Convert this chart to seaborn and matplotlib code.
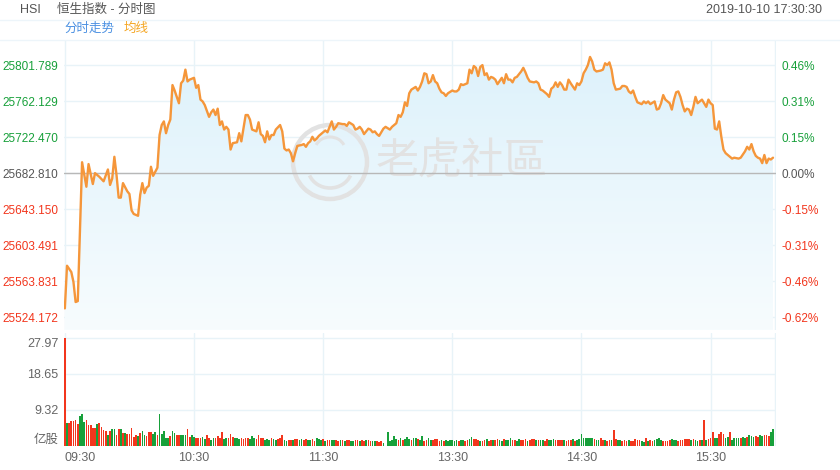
import numpy as np
import pandas as pd
import matplotlib
matplotlib.use("Agg")
import matplotlib.pyplot as plt
import seaborn as sns
from matplotlib.colors import LinearSegmentedColormap
from matplotlib.lines import Line2D
from matplotlib.patches import Circle, Arc
from matplotlib.transforms import IdentityTransform

# previous close and the axis step used by the quote panel
pre_close = 25682.810
step = 39.65955

# intraday price (minutes after 09:30, lunch removed)
price_min = [0, 1, 3, 4, 5, 6, 7, 8, 10, 11, 13, 14, 16, 18, 20, 21, 22, 23, 24, 25,
             26, 27, 29, 30, 31, 32, 34, 35, 36, 37, 38, 39, 40, 41, 43, 44, 45, 46, 47, 48,
             49, 50, 51, 53, 54, 55, 56, 57, 58, 60, 61, 62, 63, 64, 65, 67, 68, 69, 70, 71,
             72, 73, 74, 75, 76, 77, 78, 80, 81, 82, 84, 85, 86, 87, 89, 90, 91, 92, 93, 94,
             95, 96, 97, 98, 100, 101, 102, 103, 104, 105, 106, 107, 108, 110, 111, 112, 113, 114, 115, 116,
             117, 118, 120, 121, 122, 123, 124, 125, 126, 127, 129, 130, 131, 132, 134, 135, 136, 137, 138, 139,
             141, 142, 143, 144, 145, 146, 148, 149, 151, 152, 154, 155, 156, 157, 158, 159, 160, 161, 163, 164,
             165, 166, 167, 168, 169, 170, 171, 172, 173, 174, 175, 176, 177, 178, 180, 181, 182, 183, 184, 185,
             187, 188, 189, 190, 191, 192, 193, 194, 195, 196, 197, 198, 199, 200, 201, 203, 204, 205, 206, 207,
             208, 209, 210, 212, 213, 214, 215, 216, 218, 219, 220, 221, 222, 223, 224, 225, 226, 227, 228, 229,
             230, 231, 232, 233, 234, 235, 237, 238, 239, 240, 241, 242, 243, 244, 245, 246, 247, 249, 250, 251,
             252, 253, 254, 255, 256, 258, 259, 260, 261, 262, 263, 264, 265, 266, 268, 269, 270, 271, 272, 274,
             275, 276, 277, 278, 279, 280, 281, 282, 283, 284, 285, 286, 287, 288, 289, 290, 291, 292, 293, 294,
             296, 297, 298, 299, 300, 301, 302, 303, 304, 305, 306, 307, 308, 310, 311, 313, 314, 316, 317, 318,
             319, 320, 321, 322, 323, 324, 325, 326, 327, 328, 329]
price_val = [25534, 25581, 25574, 25563, 25541, 25542, 25620, 25695, 25668, 25693, 25671, 25683, 25679, 25674, 25687, 25670, 25677, 25701, 25681, 25656,
             25656, 25672, 25663, 25660, 25642, 25638, 25636, 25659, 25672, 25661, 25667, 25669, 25690, 25680, 25689, 25725, 25736, 25740, 25727, 25736,
             25742, 25780, 25774, 25760, 25782, 25785, 25797, 25784, 25786, 25788, 25777, 25780, 25764, 25762, 25758, 25745, 25750, 25753, 25747, 25754,
             25736, 25740, 25731, 25734, 25731, 25709, 25716, 25717, 25727, 25718, 25747, 25747, 25742, 25731, 25729, 25739, 25726, 25724, 25717, 25729,
             25720, 25725, 25725, 25731, 25736, 25729, 25710, 25708, 25709, 25705, 25696, 25705, 25713, 25714, 25715, 25712, 25716, 25718, 25723, 25719,
             25721, 25724, 25728, 25730, 25728, 25734, 25740, 25731, 25734, 25738, 25737, 25737, 25735, 25739, 25736, 25731, 25732, 25734, 25731, 25726,
             25732, 25731, 25728, 25729, 25726, 25724, 25732, 25734, 25731, 25734, 25738, 25747, 25745, 25750, 25761, 25757, 25771, 25775, 25778, 25774,
             25778, 25784, 25793, 25792, 25782, 25784, 25791, 25784, 25782, 25776, 25772, 25771, 25768, 25771, 25774, 25773, 25773, 25775, 25781, 25780,
             25782, 25797, 25793, 25801, 25799, 25790, 25800, 25802, 25791, 25793, 25786, 25789, 25788, 25786, 25781, 25788, 25782, 25792, 25786, 25786,
             25783, 25788, 25789, 25795, 25799, 25794, 25788, 25784, 25783, 25784, 25782, 25775, 25774, 25772, 25770, 25767, 25776, 25778, 25783, 25778,
             25783, 25780, 25775, 25775, 25786, 25782, 25775, 25782, 25780, 25784, 25793, 25797, 25802, 25811, 25806, 25797, 25795, 25796, 25797, 25804,
             25802, 25805, 25797, 25782, 25775, 25776, 25779, 25779, 25778, 25773, 25771, 25774, 25767, 25761, 25759, 25762, 25760, 25762, 25759, 25762,
             25753, 25754, 25760, 25769, 25764, 25762, 25760, 25753, 25764, 25772, 25773, 25767, 25758, 25751, 25754, 25753, 25747, 25756, 25767, 25760,
             25764, 25760, 25756, 25764, 25760, 25758, 25732, 25731, 25740, 25723, 25709, 25705, 25703, 25699, 25700, 25699, 25700, 25707, 25712, 25709,
             25715, 25707, 25702, 25700, 25699, 25694, 25703, 25694, 25699, 25698, 25700]

# per-minute volume (亿股) and bar direction (g = up, r = down)
volume = [27.97, 5.9, 6.0, 6.6, 6.6, 6.7, 5.6, 7.8, 8.3, 6.2,
          6.7, 5.4, 5.4, 4.7, 4.7, 5.7, 5.9, 5.0, 4.1, 4.0,
          2.9, 4.0, 4.5, 4.3, 2.9, 4.5, 4.3, 3.3, 3.3, 3.1,
          3.1, 4.7, 2.4, 2.8, 2.6, 3.3, 4.0, 2.8, 2.6, 3.5,
          3.5, 3.1, 3.5, 2.8, 8.3, 3.1, 3.8, 2.2, 2.2, 2.6,
          4.0, 3.3, 2.9, 2.8, 2.8, 2.8, 2.8, 4.3, 2.4, 2.8,
          2.4, 2.2, 2.0, 2.2, 2.4, 1.8, 2.8, 2.0, 1.6, 2.0,
          2.2, 2.6, 2.0, 3.5, 1.8, 2.2, 2.0, 3.1, 2.4, 2.0,
          2.2, 1.8, 2.0, 1.8, 2.0, 2.2, 1.8, 2.6, 2.2, 1.8,
          2.9, 2.0, 2.2, 1.6, 1.8, 1.6, 2.0, 1.8, 1.6, 1.8,
          2.0, 2.8, 1.6, 1.4, 1.6, 1.6, 1.5, 1.7, 1.9, 1.6,
          1.8, 1.6, 1.9, 1.5, 1.6, 1.8, 1.4, 2.0, 1.7, 1.5,
          1.8, 1.4, 1.6, 1.6, 1.5, 1.5, 1.6, 1.4, 1.5, 1.6,
          1.4, 1.5, 1.6, 1.4, 1.4, 1.5, 1.6, 1.4, 1.5, 1.3,
          1.6, 1.5, 1.2, 1.4, 1.2, 1.4, 1.0, 1.2, 0.8, 0.0,
          3.5, 1.4, 1.6, 2.6, 1.8, 1.5, 2.2, 1.6, 1.8, 2.4,
          1.7, 1.6, 2.0, 2.2, 1.8, 1.5, 2.6, 1.4, 1.6, 2.2,
          1.5, 1.6, 1.8, 1.9, 1.4, 1.5, 1.4, 1.5, 1.4, 1.5,
          1.5, 1.4, 1.5, 1.2, 1.6, 1.5, 1.4, 1.6, 1.8, 2.4,
          1.9, 1.8, 1.6, 1.4, 1.4, 1.5, 1.8, 1.4, 1.6, 1.5,
          1.6, 1.7, 1.5, 1.4, 1.9, 1.6, 1.6, 2.0, 1.6, 1.5,
          1.4, 1.8, 1.5, 1.6, 1.7, 1.4, 1.6, 1.9, 1.7, 1.5,
          1.5, 1.6, 1.6, 1.4, 1.8, 1.6, 1.5, 1.9, 1.5, 1.6,
          1.6, 1.5, 1.6, 1.4, 1.5, 1.6, 1.8, 1.4, 1.5, 1.8,
          3.1, 2.2, 2.2, 2.0, 2.0, 2.2, 1.8, 1.6, 1.5, 2.0,
          1.5, 1.6, 1.4, 1.5, 1.6, 4.1, 1.8, 1.6, 1.5, 1.4,
          1.6, 1.3, 1.5, 1.4, 1.3, 1.9, 1.5, 1.5, 1.3, 1.1,
          2.1, 1.4, 1.6, 1.4, 1.5, 1.7, 2.1, 1.6, 1.3, 1.3,
          1.4, 1.6, 1.7, 1.5, 1.6, 1.4, 1.5, 1.6, 1.7, 1.8,
          1.9, 1.6, 1.7, 1.5, 1.4, 1.6, 1.5, 6.7, 1.5, 1.9,
          2.1, 3.5, 2.2, 2.2, 3.1, 3.6, 3.2, 2.2, 2.4, 3.6,
          1.5, 2.1, 2.0, 2.0, 2.1, 2.4, 2.2, 2.4, 2.8, 2.6,
          2.4, 2.6, 2.4, 2.9, 2.6, 2.8, 2.9, 2.7, 3.6, 4.5]
direction = ("rgrrrrrggg" "rrrrrgrrrr" "grggrrgrgr" "rrrrgrggrr" "rggrgggggr"
             "ggrrgggrrg" "grrrggrrgg" "rrrrggrrrg" "ggrrrrgggr" "rrrgggrggr"
             "rrggrrgrrg" "grrggrrggg" "rgrrggrrgr" "grrggrrgrr" "grrggrrrgg"
             "gggggrgrgg" "grggrggrrg" "grrrrgrggg" "gggrggrrgg" "rrrgrrgrrg"
             "rrggrgggrr" "ggrrrgrrrg" "rggrrgggrr" "rrgrrrgrgg" "ggggggrggr"
             "rgrrgrrggr" "rrgrrrrrgg" "rgrrggggrr" "rrgggrrrrr" "rgrggrgrgr"
             "rrggrrrggr" "ggggrggrgg" "grrggrrrgg")

time_ticks = [0, 60, 120, 180, 240, 300, 330]
time_labels = ["09:30", "10:30", "11:30", "13:30", "14:30", "15:30", ""]

GREEN = "#17a03a"
RED = "#f2361d"
GREY = "#555555"
GRID = "#e8f3f8"
LINE = "#f5963a"

sns.set_theme(style="white")
plt.rcParams["font.family"] = ["Liberation Sans", "Noto Sans CJK SC", "DejaVu Sans"]

W, H = 840, 470
fig = plt.figure(figsize=(W / 100, H / 100), dpi=100)


def box(x0, y0, x1, y1):
    return [x0 / W, 1 - y1 / H, (x1 - x0) / W, (y1 - y0) / H]


ax = fig.add_axes(box(64, 40, 776, 330))
axv = fig.add_axes(box(64, 333, 776, 446))

# price panel limits: 36 px per step, zero line at y=173.3
ylo = pre_close - (330 - 173.3) / 36 * step
yhi = pre_close + (173.3 - 40) / 36 * step
xlim = (-0.4, 330.4)

# gradient area under the line
poly = ax.fill_between(price_min, price_val, ylo, color="none", lw=0)
cmap = LinearSegmentedColormap.from_list("area", ["#f7fcfe", "#dcf1fb"])
grad = np.linspace(0, 1, 256).reshape(-1, 1)
im = ax.imshow(grad, extent=[xlim[0], xlim[1], ylo, yhi], origin="lower",
               aspect="auto", cmap=cmap, zorder=1)
im.set_clip_path(poly.get_paths()[0], transform=ax.transData)

sns.lineplot(x=price_min, y=price_val, ax=ax, color=LINE, linewidth=1.7, zorder=5)
ax.axhline(pre_close, color="#b8b8b8", lw=1, zorder=3)

ticks = [pre_close + k * step for k in range(-4, 4)]
ax.set_xlim(*xlim)
ax.set_ylim(ylo, yhi)
ax.set_yticks(ticks, ["%.3f" % t for t in ticks])
ax.set_xticks(time_ticks, [""] * len(time_ticks))
ax.grid(True, color=GRID, lw=1, zorder=0)
ax.set_axisbelow(True)
ax.tick_params(axis="both", length=0)
ax.tick_params(axis="y", labelsize=8.5, pad=4)
ax.set_xlabel("")
ax.set_ylabel("")


def sign_color(v):
    if abs(v) < 1e-6:
        return GREY
    return GREEN if v > 0 else RED


for lbl, t in zip(ax.get_yticklabels(), ticks):
    lbl.set_color(sign_color(t - pre_close))

axr = ax.twinx()
axr.set_ylim(ylo, yhi)
pct = [(t - pre_close) / pre_close * 100 for t in ticks]
axr.set_yticks(ticks, ["%.2f%%" % p for p in pct])
axr.tick_params(axis="y", length=0, labelsize=8.5, pad=4)
for lbl, p in zip(axr.get_yticklabels(), pct):
    lbl.set_color(sign_color(round(p, 2)))
axr.grid(False)

for a in (ax, axr, axv):
    for s in a.spines.values():
        s.set_visible(False)

# watermark
wm = "#e2e2e2"
ax.add_artist(Circle((330, H - 162), 37, transform=IdentityTransform(), fill=False,
                     lw=3.2, ec=wm, zorder=2))
ax.add_artist(Arc((330, H - 168), 44, 40, theta1=200, theta2=340, transform=IdentityTransform(),
                  lw=2.6, ec=wm, zorder=2))
ax.add_artist(Arc((330, H - 150), 30, 26, theta1=20, theta2=160, transform=IdentityTransform(),
                  lw=2.2, ec=wm, zorder=2))
ax.text(376, H - 162, "老虎社區", transform=IdentityTransform(), fontsize=31, color=wm,
        va="center", ha="left", family=["Noto Sans CJK TC"], zorder=2)

# volume panel
minutes = np.arange(len(volume))
bar_colors = [GREEN if d == "g" else RED for d in direction]
axv.bar(minutes, volume, width=0.78, color=bar_colors, linewidth=0, zorder=3)
vmax = max(volume)
vticks = [0, vmax / 3, vmax * 2 / 3, vmax]
axv.set_xlim(*xlim)
axv.set_ylim(0, vmax * 113 / 108)
axv.set_yticks(vticks, ["亿股"] + ["%.2f" % v for v in vticks[1:]])
axv.set_xticks(time_ticks, time_labels)
axv.grid(True, color=GRID, lw=1, zorder=0)
axv.set_axisbelow(True)
axv.tick_params(axis="both", length=0, labelsize=9, labelcolor="#666666")
axv.tick_params(axis="y", pad=4)
axv.tick_params(axis="x", pad=4)
ylabels = axv.get_yticklabels()
ylabels[0].set_va("bottom")
ylabels[-1].set_va("top")
axv.get_xticklabels()[0].set_ha("left")

# header
fig.text(20 / W, 1 - 10 / H, "HSI", fontsize=9, color=GREY, va="center")
fig.text(57 / W, 1 - 10 / H, "恒生指数 - 分时图", fontsize=9, color=GREY, va="center")
fig.text(822 / W, 1 - 10 / H, "2019-10-10 17:30:30", fontsize=9, color=GREY, va="center", ha="right")
fig.text(64 / W, 1 - 29 / H, "分时走势", fontsize=9, color="#4a90e2", va="center")
fig.text(124 / W, 1 - 29 / H, "均线", fontsize=9, color="#f5a623", va="center")
for yy in (20, 40):
    fig.add_artist(Line2D([0, 1], [1 - yy / H, 1 - yy / H], transform=fig.transFigure,
                          color="#edf5fa", lw=1))

fig.savefig("out.png", dpi=100)
